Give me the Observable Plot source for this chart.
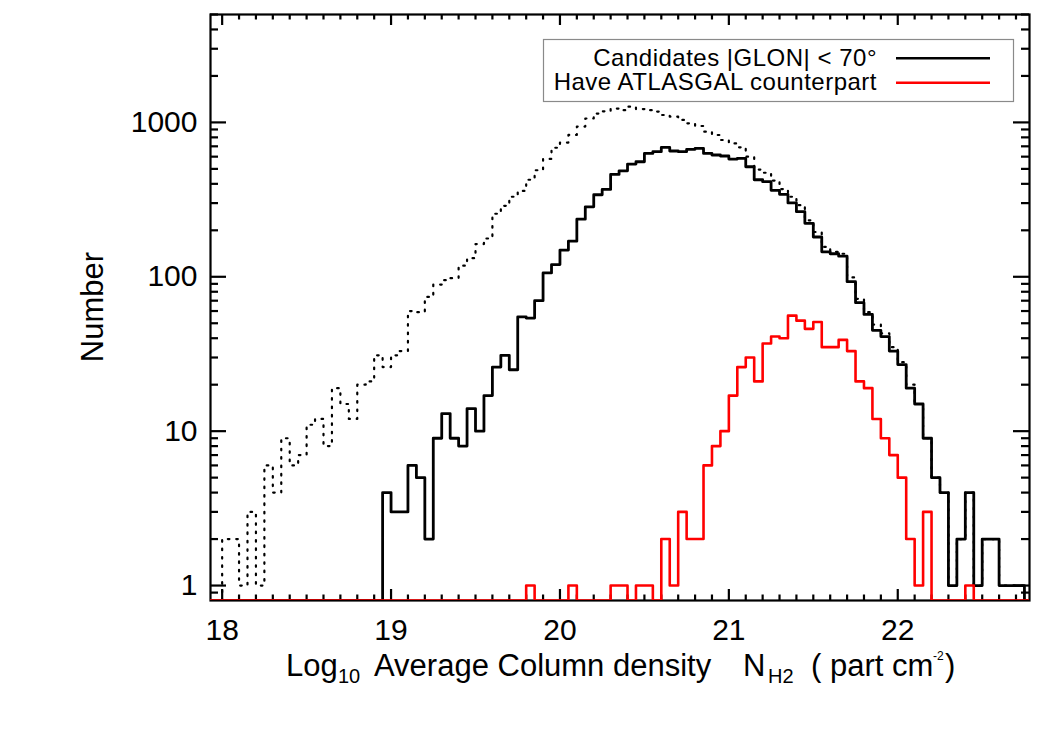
<!DOCTYPE html>
<html>
<head>
<meta charset="utf-8">
<script src="https://cdn.jsdelivr.net/npm/d3@7"></script>
<script src="https://cdn.jsdelivr.net/npm/@observablehq/plot@0.6"></script>
<style>
  html, body { margin: 0; padding: 0; background: #fff; }
  svg { display: block; }
</style>
</head>
<body>
<div id="chart"></div>
<script>
// Histogram bins: lower edge of first bin and bin width (log10 N_H2)
const binStart = 17.90;
const binWidth = 0.05;

// All candidates (dotted), one count per bin starting at 17.90
const allCounts = [
  0, 0, 2, 2, 1, 3, 1, 6, 4, 9,
  6, 7, 11, 12, 8, 19, 15, 12, 20, 21,
  31, 26, 31, 33, 60, 59, 74, 89, 95, 98,
  118, 132, 163, 177, 256, 288, 330, 360, 425, 490,
  580, 685, 740, 830, 940, 1060, 1140, 1180, 1230, 1200,
  1265, 1220, 1200, 1175, 1117, 1089, 1037, 986, 948, 871,
  829, 769, 731, 690, 600, 495, 472, 420, 370, 330,
  291, 232, 195, 156, 145, 141, 99, 72, 59, 49,
  43, 35, 28, 20, 15, 9, 5, 4, 1, 2,
  4, 1, 2, 2, 1, 1, 1, 0
];

// Candidates |GLON| < 70 deg (solid black)
const glonCounts = [
  0, 0, 0, 0, 0, 0, 0, 0, 0, 0,
  0, 0, 0, 0, 0, 0, 0, 0, 0, 0,
  0, 4, 3, 3, 6, 5, 2, 9, 13, 9,
  8, 14, 10, 17, 26, 31, 25, 55, 54, 70,
  106, 120, 149, 170, 236, 284, 340, 368, 460, 486,
  537, 556, 630, 646, 689, 653, 646, 669, 679, 630,
  615, 606, 579, 585, 516, 425, 413, 363, 342, 301,
  264, 222, 181, 145, 141, 136, 93, 68, 57, 45,
  41, 33, 27, 19, 15, 9, 5, 4, 1, 2,
  4, 1, 2, 2, 1, 1, 1, 0
];

// Have ATLASGAL counterpart (red)
const atlasCounts = [
  0, 0, 0, 0, 0, 0, 0, 0, 0, 0,
  0, 0, 0, 0, 0, 0, 0, 0, 0, 0,
  0, 0, 0, 0, 0, 0, 0, 0, 0, 0,
  0, 0, 0, 0, 0, 0, 0, 0, 1, 0,
  0, 0, 0, 1, 0, 0, 0, 0, 1, 1,
  0, 1, 1, 0, 2, 1, 3, 2, 2, 6,
  8, 10, 17, 26, 30, 21, 37, 41, 40, 56,
  52, 46, 51, 35, 35, 39, 33, 21, 19, 12,
  9, 7, 5, 2, 1, 3, 0, 0, 0, 0,
  1, 0, 0, 0, 0, 0, 0, 0
];

// Axes
const xDomain = [17.931, 22.78];
const yDomain = [0.8, 5000];
const xMajorTicks = [18, 19, 20, 21, 22];
const xMinorTicks = d3.range(181, 228).map(v => v / 10).filter(v => !Number.isInteger(v));
const yMajorTicks = [1, 10, 100, 1000];
const yMinorTicks = [0.9, 2, 3, 4, 5, 6, 7, 8, 9, 20, 30, 40, 50, 60, 70, 80, 90,
                     200, 300, 400, 500, 600, 700, 800, 900, 2000, 3000, 4000, 5000];

const legendLabels = ["Candidates |GLON| < 70°", "Have ATLASGAL counterpart"];
const legendColors = ["black", "red"];

// Build step points (lower edge of each bin, plus closing right edge)
function steps(counts) {
  const pts = counts.map((c, i) => ({x: binStart + i * binWidth, n: c}));
  pts.push({x: binStart + counts.length * binWidth, n: counts[counts.length - 1]});
  return pts;
}
const floorY = d => Math.max(d.n, yDomain[0]); // empty bins sit on the bottom axis

const W = 1050, H = 750;
const mL = 210, mR = 21, mT = 14, mB = 150;
const frameW = W - mL - mR, frameH = H - mT - mB;
const tickStyle = {stroke: "black", strokeWidth: 2.2};

const plot = Plot.plot({
  width: W, height: H,
  marginLeft: mL, marginRight: mR, marginTop: mT, marginBottom: mB,
  x: {domain: xDomain, axis: null},
  y: {type: "log", domain: yDomain, axis: null},
  style: {fontFamily: "'Liberation Sans', Arial, Helvetica, sans-serif", background: "white", color: "black"},
  marks: [
    // ticks (inward, all four sides)
    Plot.ruleX(xMajorTicks, {x: d => d, insetTop: frameH - 11, ...tickStyle}),
    Plot.ruleX(xMinorTicks, {x: d => d, insetTop: frameH - 5.5, ...tickStyle}),
    Plot.ruleX(xMajorTicks, {x: d => d, insetBottom: frameH - 11, ...tickStyle}),
    Plot.ruleX(xMinorTicks, {x: d => d, insetBottom: frameH - 5.5, ...tickStyle}),
    Plot.ruleY(yMajorTicks, {y: d => d, insetRight: frameW - 16, ...tickStyle}),
    Plot.ruleY(yMinorTicks, {y: d => d, insetRight: frameW - 8, ...tickStyle}),
    Plot.ruleY(yMajorTicks, {y: d => d, insetLeft: frameW - 16, ...tickStyle}),
    Plot.ruleY(yMinorTicks, {y: d => d, insetLeft: frameW - 8, ...tickStyle}),
    Plot.frame({stroke: "black", strokeWidth: 2.2}),
    // histograms
    Plot.lineY(steps(allCounts), {x: "x", y: floorY, curve: "step-after", stroke: "black",
      strokeWidth: 2.2, strokeDasharray: "1.6,6.8", clip: true}),
    Plot.lineY(steps(glonCounts), {x: "x", y: floorY, curve: "step-after", stroke: "black",
      strokeWidth: 2.8, clip: true}),
    Plot.lineY(steps(atlasCounts), {x: "x", y: floorY, curve: "step-after", stroke: "red",
      strokeWidth: 2.6, clip: true}),
    // tick labels
    Plot.text(xMajorTicks, {x: d => d, frameAnchor: "bottom", text: d => String(d),
      lineAnchor: "top", dy: 18, fontSize: 30, fill: "black"}),
    Plot.text(yMajorTicks, {y: d => d, frameAnchor: "left", text: d => String(d),
      textAnchor: "end", dx: -13, fontSize: 30, fill: "black"})
  ]
});

document.getElementById("chart").appendChild(plot);

const svg = d3.select(plot);
const font = "'Liberation Sans', Arial, Helvetica, sans-serif";

// Y axis title
svg.append("text")
  .attr("transform", "translate(103,307) rotate(-90)")
  .attr("text-anchor", "middle")
  .attr("font-family", font).attr("font-size", 31).attr("fill", "black")
  .text("Number");

// X axis title with sub/superscripts
const xt = svg.append("text")
  .attr("y", 676)
  .attr("text-anchor", "start")
  .attr("font-family", font).attr("font-size", 31).attr("fill", "black")
  .style("white-space", "pre");
xt.append("tspan").attr("x", 286).text("Log");
xt.append("tspan").attr("x", 338).attr("dy", 7).attr("font-size", 20).text("10");
xt.append("tspan").attr("x", 374).attr("dy", -7).text("Average Column density");
xt.append("tspan").attr("x", 743).text("N");
xt.append("tspan").attr("x", 768).attr("dy", 7).attr("font-size", 20).text("H2");
xt.append("tspan").attr("x", 811).attr("dy", -7).text("( part cm");
xt.append("tspan").attr("x", 933).attr("dy", -16).attr("font-size", 12).text("-2");
xt.append("tspan").attr("x", 945).attr("dy", 16).text(")");

// Legend
const lg = svg.append("g");
lg.append("rect").attr("x", 543.5).attr("y", 39.5).attr("width", 470).attr("height", 62)
  .attr("fill", "white").attr("stroke", "#8a8a8a").attr("stroke-width", 1.2);
legendLabels.forEach((label, i) => {
  const yy = 58.3 + i * 24.4;
  lg.append("text").attr("x", 877).attr("y", yy + 7.5)
    .attr("text-anchor", "end").attr("font-family", font).attr("font-size", 24)
    .attr("letter-spacing", 0.5).attr("fill", "black")
    .text(label);
  lg.append("line").attr("x1", 896).attr("x2", 990).attr("y1", yy).attr("y2", yy)
    .attr("stroke", legendColors[i]).attr("stroke-width", 2.6);
});
</script>
</body>
</html>
